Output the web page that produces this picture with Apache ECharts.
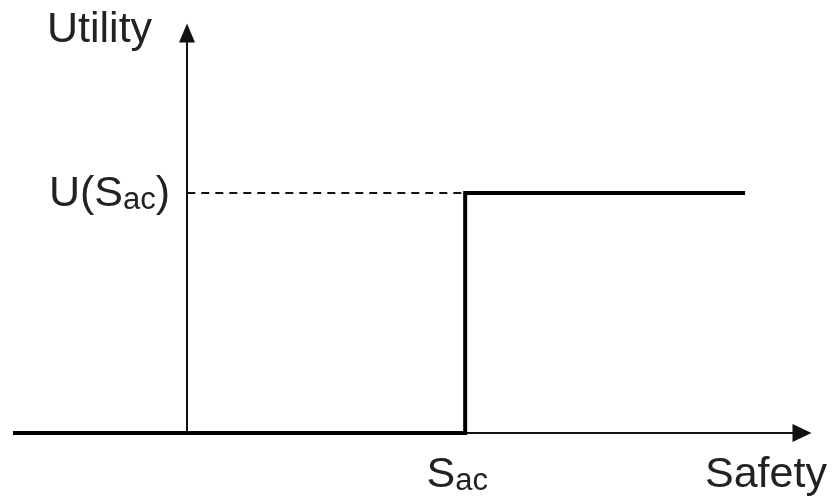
<!DOCTYPE html>
<html>
<head>
<meta charset="utf-8">
<script src="https://cdn.jsdelivr.net/npm/echarts@6/dist/echarts.min.js"></script>
<style>
  html, body { margin: 0; padding: 0; background: #fff; }
  #chart { width: 836px; height: 502px; }
</style>
</head>
<body>
<div id="chart"></div>
<script>
// step utility: zero below S_ac, U(S_ac) from S_ac on
const stepX = [-0.62, 1, 1, 2];
const stepY = [0, 0, 1, 1];
// dashed guide from the utility axis to the step
const guideX = [0, 1];
const guideY = [1, 1];
const xTickValues = [1];
const yTickValues = [1];
const xName = 'Safety';
const yName = 'Utility';

const chart = echarts.init(document.getElementById('chart'));
const font = '"Liberation Sans", Arial, sans-serif';

const rich = {
  m: { fontFamily: font, fontSize: 43, color: '#222', verticalAlign: 'bottom', lineHeight: 46 },
  s: { fontFamily: font, fontSize: 31, color: '#222', verticalAlign: 'bottom', lineHeight: 38 }
};

const option = {
  animation: false,
  backgroundColor: '#fff',
  grid: { left: 15, right: 34, top: 33, bottom: 69, outerBoundsMode: 'none' },
  xAxis: {
    type: 'value',
    min: -0.62,
    max: 2.212,
    splitLine: { show: false },
    axisTick: { show: false },
    axisLine: {
      onZero: false,
      symbol: ['none', 'triangle'],
      symbolSize: [18, 19],
      lineStyle: { color: '#111', width: 2 }
    },
    axisLabel: {
      customValues: xTickValues,
      margin: 18,
      formatter: () => '{m|S}{s|ac}',
      padding: [0, 16, 0, 0],
      rich: rich
    }
  },
  yAxis: {
    type: 'value',
    min: 0,
    max: 1.667,
    // shift the utility axis from the grid edge to safety = 0
    offset: -172,
    splitLine: { show: false },
    axisTick: { show: false },
    axisLine: {
      onZero: false,
      symbol: ['none', 'triangle'],
      symbolSize: [16, 19],
      lineStyle: { color: '#111', width: 2 }
    },
    axisLabel: {
      customValues: yTickValues,
      margin: 17,
      formatter: () => '{m|U(S}{s|ac}{m|)}',
      rich: rich
    }
  },
  graphic: [
    { type: 'text', left: 47, top: 9, style: { text: yName, fontFamily: font, fontSize: 43, fill: '#222' } },
    { type: 'text', left: 705, top: 454, style: { text: xName, fontFamily: font, fontSize: 43, fill: '#222' } }
  ],
  series: [
    {
      type: 'line',
      data: guideX.map((x, i) => [x, guideY[i]]),
      symbol: 'none',
      lineStyle: { color: '#111', width: 2, type: [8, 6] },
      z: 1
    },
    {
      type: 'line',
      data: stepX.map((x, i) => [x, stepY[i]]),
      symbol: 'none',
      lineStyle: { color: '#000', width: 4, cap: 'square', join: 'miter' },
      z: 3
    }
  ]
};
chart.setOption(option);
</script>
</body>
</html>
